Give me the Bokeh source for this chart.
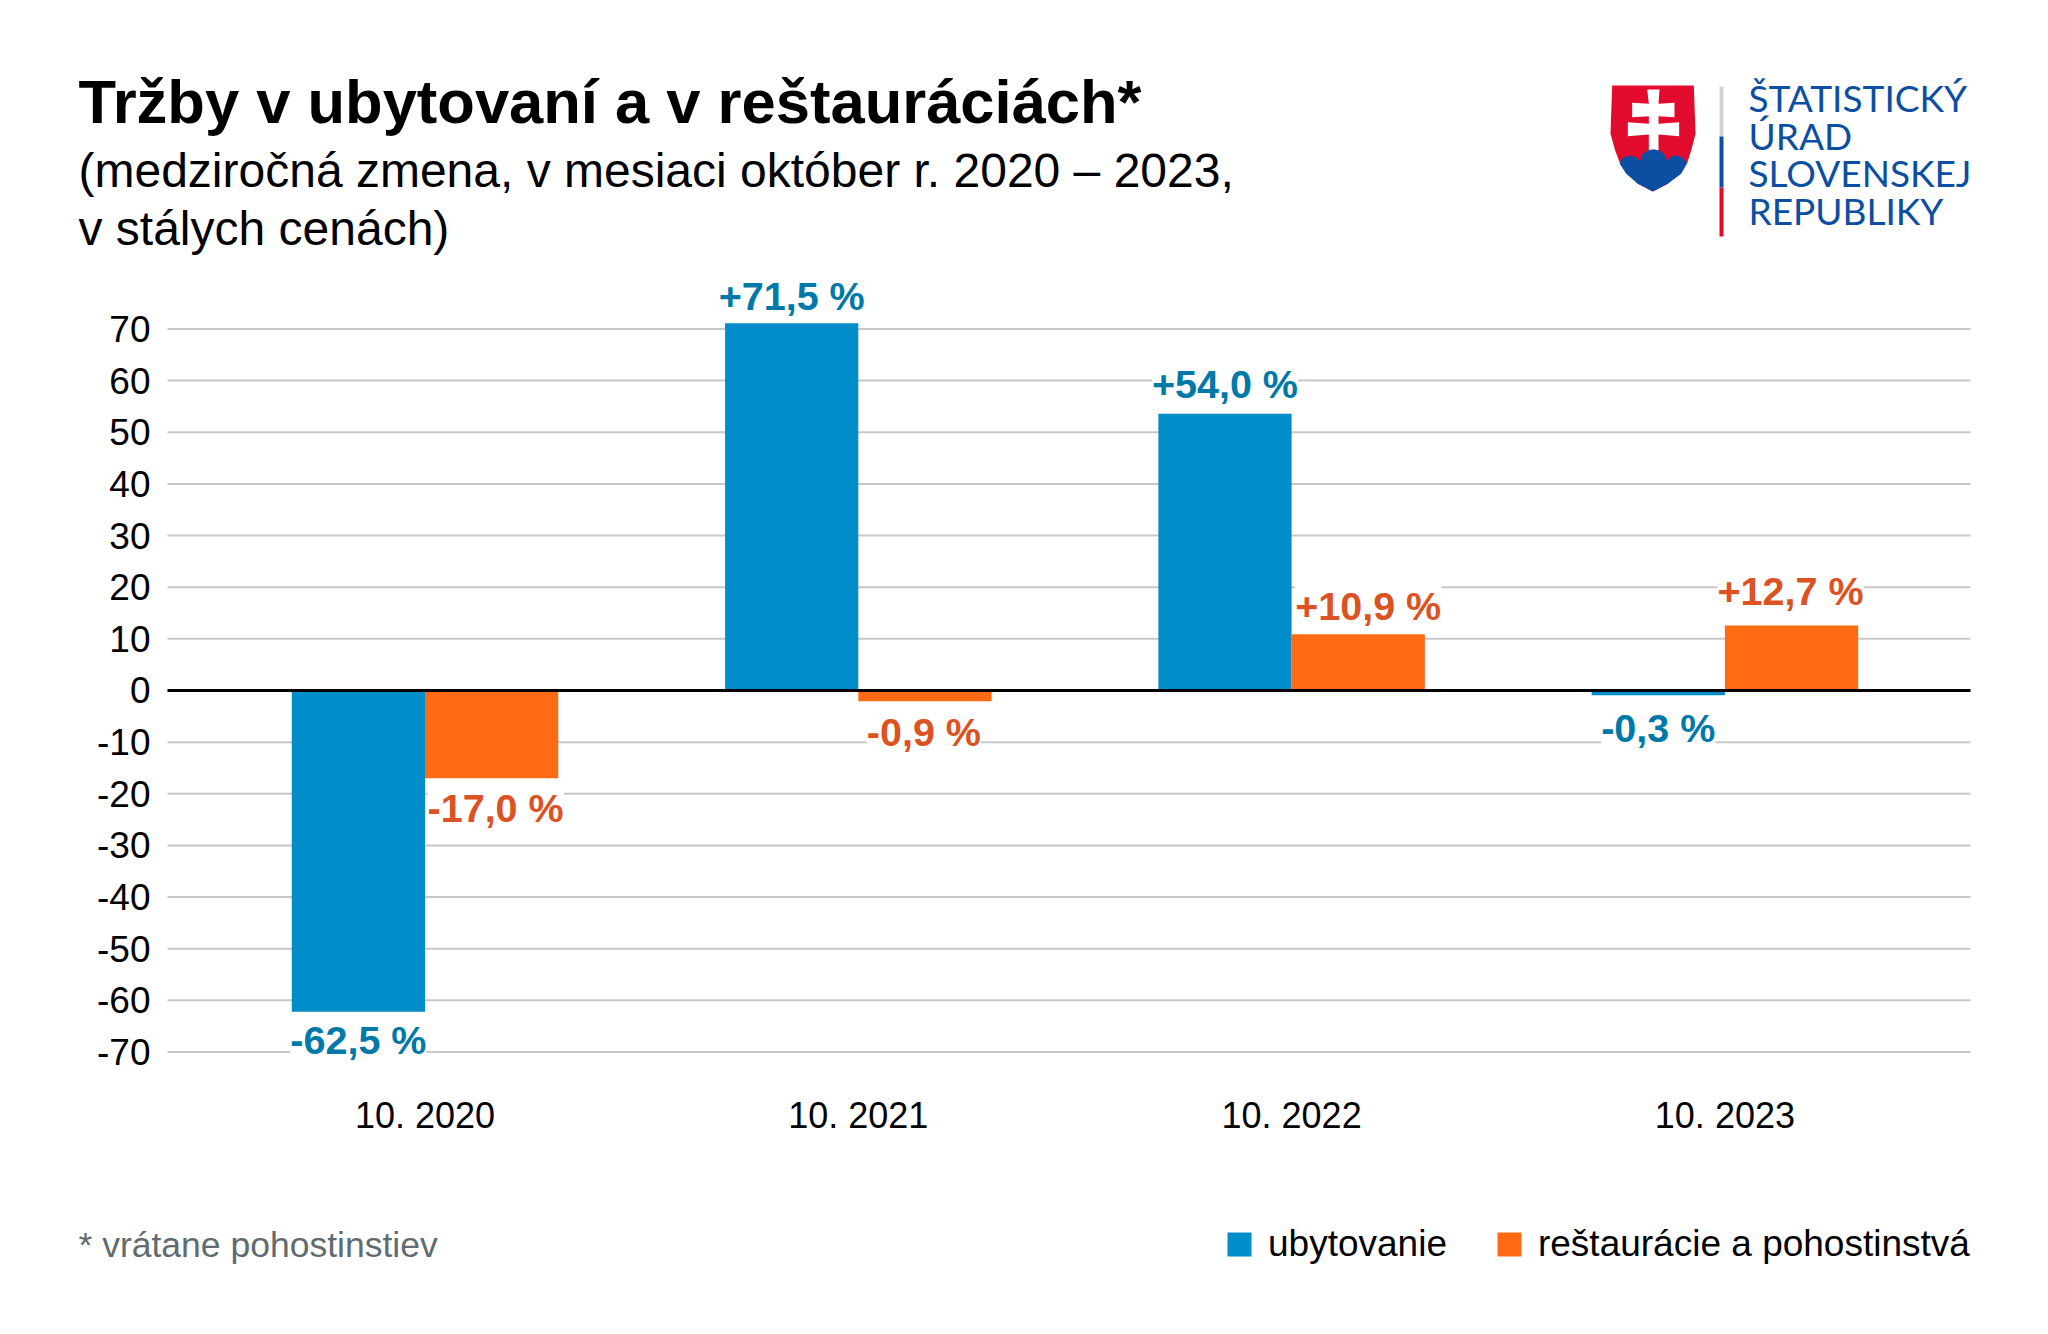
from bokeh.plotting import figure
from bokeh.models import (ColumnDataSource, LabelSet, Label, Legend, LegendItem,
                          FixedTicker, PolyAnnotation, BoxAnnotation)
from bokeh.core.properties import value
from bokeh.embed import file_html
from bokeh.resources import INLINE

categories = ["10. 2020", "10. 2021", "10. 2022", "10. 2023"]
ubytovanie = [-62.2, 71.1, 53.6, -0.9]
restauracie = [-17.0, -2.1, 10.9, 12.6]
ubytovanie_labels = ["-62,5 %", "+71,5 %", "+54,0 %", "-0,3 %"]
restauracie_labels = ["-17,0 %", "-0,9 %", "+10,9 %", "+12,7 %"]
y_ticks = list(range(-70, 71, 10))

BLUE, ORANGE = "#008DC9", "#FF6A13"
BLUE_T, ORANGE_T = "#0079A8", "#DD5222"
FONT = "Liberation Sans"
W, H = 2032, 1318
X_LEFT, X_RIGHT = -0.5943, 3.5668

p = figure(width=W, height=H, output_backend="svg", toolbar_location=None,
           x_range=(-0.9797, 3.7099), y_range=(-121.6, 133.6),
           min_border_left=0, min_border_right=0, min_border_top=0, min_border_bottom=0)
p.outline_line_color = None
p.background_fill_color = "white"
p.border_fill_color = "white"
p.grid.visible = False

p.yaxis.ticker = FixedTicker(ticks=y_ticks)
p.yaxis.major_label_overrides = {t: str(t) for t in y_ticks}
p.yaxis.fixed_location = X_LEFT
p.yaxis.axis_line_color = None
p.yaxis.major_tick_line_color = None
p.yaxis.minor_tick_line_color = None
p.yaxis.major_label_text_font = FONT
p.yaxis.major_label_text_font_size = "37px"
p.yaxis.major_label_text_color = "black"
p.yaxis.major_label_standoff = 11

xs = list(range(len(categories)))
p.xaxis.ticker = FixedTicker(ticks=xs)
p.xaxis.major_label_overrides = {i: c for i, c in enumerate(categories)}
p.xaxis.fixed_location = -72
p.xaxis.axis_line_color = None
p.xaxis.major_tick_line_color = None
p.xaxis.minor_tick_line_color = None
p.xaxis.major_label_text_font = FONT
p.xaxis.major_label_text_font_size = "36px"
p.xaxis.major_label_text_color = "black"
p.xaxis.major_label_standoff = 27

grid_ticks = [t for t in y_ticks if t != 0]
p.segment(x0=X_LEFT, x1=X_RIGHT, y0=grid_ticks, y1=grid_ticks, line_color="#C8C8C8", line_width=2, level="underlay")

BW = 0.3075
r1 = p.vbar(x=[i - BW / 2 for i in xs], top=ubytovanie, bottom=0, width=BW, fill_color=BLUE, line_color=None)
r2 = p.vbar(x=[i + BW / 2 for i in xs], top=restauracie, bottom=0, width=BW, fill_color=ORANGE, line_color=None)


def labels(vals, texts, xpos, color, xoff, yoff):
    src = ColumnDataSource(dict(x=xpos, y=vals, t=texts, xo=xoff, yo=yoff))
    p.add_layout(LabelSet(x="x", y="y", text="t", source=src, x_offset="xo", y_offset="yo",
                          text_align="center", text_baseline="middle", text_color=color,
                          text_font=value(FONT), text_font_style="bold", text_font_size="39.5px",
                          text_line_height=0.9, background_fill_color="white"))


labels(ubytovanie, ubytovanie_labels, [i - BW / 2 for i in xs], BLUE_T, [0, 0, 0, 0], [-28, 27, 30, -33])
labels(restauracie, restauracie_labels, [i + BW / 2 for i in xs], ORANGE_T, [4, -1, 10, -1], [-30, -31, 28, 34])

p.segment(x0=[X_LEFT], x1=[X_RIGHT], y0=[0], y1=[0], line_color="black", line_width=3, level="overlay")


def text(x, y, s, size, color="black", bold=False, font=FONT, align="left"):
    p.add_layout(Label(x=x, y=H - y, x_units="screen", y_units="screen", text=s,
                       text_font_size=f"{size}px", text_color=color, text_font=font, text_align=align,
                       text_baseline="middle", text_font_style="bold" if bold else "normal"))


text(78, 101, "Tržby v ubytovaní a v reštauráciách*", 61.5, bold=True)
text(78, 170, "(medziročná zmena, v mesiaci október r. 2020 – 2023,", 48)
text(78, 228, "v stálych cenách)", 48)
text(78, 1244, "* vrátane pohostinstiev", 35.5, color="#5F6B70")

for i, s in enumerate(["ŠTATISTICKÝ", "ÚRAD", "SLOVENSKEJ", "REPUBLIKY"]):
    text(1748, 97 + 37.7 * i, s, 37, color="#0B4EA2", font="Lato")

leg = Legend(items=[LegendItem(label="ubytovanie", renderers=[r1]),
                    LegendItem(label="reštaurácie a pohostinstvá", renderers=[r2])],
             orientation="horizontal", location=(1224, H - 1265), border_line_color=None,
             background_fill_alpha=0, margin=0, padding=0, spacing=47, label_standoff=14,
             glyph_width=30, glyph_height=30, label_text_font=FONT, label_text_font_size="37px",
             label_text_color="black")
p.add_layout(leg)


def logo_poly(pts, color):
    xs_ = [1610 + (a - 28) / 3 for a, b in pts]
    ys_ = [H - (70 + b / 3) for a, b in pts]
    p.add_layout(PolyAnnotation(xs=xs_, ys=ys_, xs_units="screen", ys_units="screen",
                                fill_color=color, fill_alpha=1, line_color=None))


logo_poly([(33, 45), (278, 45), (283, 190), (270, 240), (258, 278), (200, 340), (155, 363),
           (110, 340), (58, 282), (42, 240), (28, 190)], "#E30B2D")
logo_poly([(138, 57), (175, 57), (172, 100), (220, 97), (220, 140), (172, 137), (172, 160), (234, 155),
           (234, 197), (172, 192), (172, 245), (143, 245), (143, 192), (80, 197), (80, 155), (143, 160),
           (143, 137), (93, 140), (93, 97), (143, 100)], "white")
logo_poly([(55, 278), (65, 262), (85, 255), (105, 260), (117, 272), (125, 250), (140, 240), (157, 236),
           (175, 240), (190, 252), (197, 270), (210, 258), (228, 255), (245, 262), (258, 278), (240, 310),
           (200, 340), (155, 363), (110, 340), (75, 310)], "#0B4EA2")
for top, bot, c in [(86, 136, "#D0D3D4"), (136, 187, "#0B4EA2"), (187, 236, "#E30B2D")]:
    p.add_layout(BoxAnnotation(left=1719, right=1723, top=H - top, bottom=H - bot,
                               left_units="screen", right_units="screen", top_units="screen",
                               bottom_units="screen", fill_color=c, fill_alpha=1, line_color=None))

open("out.html", "w").write(file_html(p, INLINE))
